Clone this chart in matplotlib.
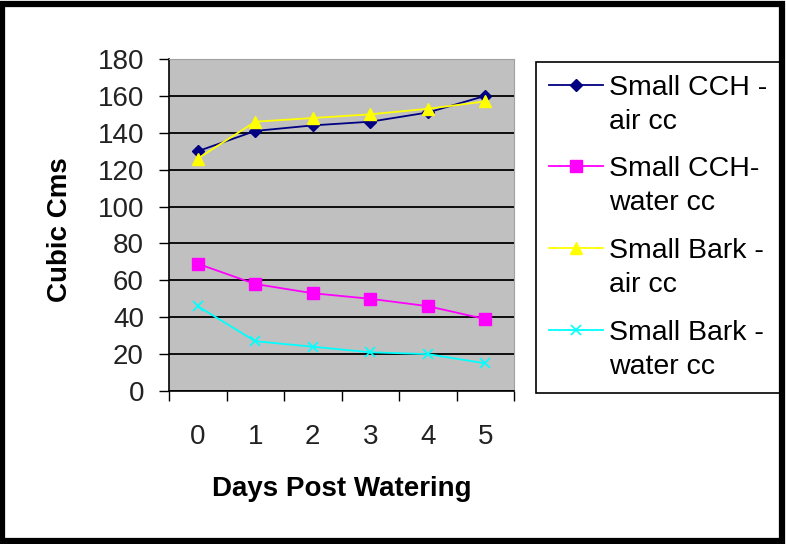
import matplotlib
matplotlib.use("Agg")
import matplotlib.pyplot as plt
from matplotlib.patches import Rectangle

# data
days = [0, 1, 2, 3, 4, 5]
cch_air = [130, 141, 144, 146, 151, 160]
cch_water = [69, 58, 53, 50, 46, 39]
bark_air = [126, 146, 148, 150, 153, 157]
bark_water = [46, 27, 24, 21, 20, 15]
series_labels = ["Small CCH -\nair cc", "Small CCH-\nwater cc",
                 "Small Bark -\nair cc", "Small Bark -\nwater cc"]
y_ticks = list(range(0, 181, 20))

plt.rcParams['font.family'] = ['Liberation Sans', 'DejaVu Sans']

fig = plt.figure(figsize=(7.86, 5.44), dpi=100)
fig.patch.set_facecolor('white')

# thick black frame around the whole picture
fig.patches.append(Rectangle((0.003, 0.005), 0.992, 0.988, transform=fig.transFigure,
                             fill=False, edgecolor='black', linewidth=4.5))

ax = fig.add_axes([169/786, 1 - 391/544, 345/786, 332/544])
ax.set_facecolor('#C0C0C0')

styles = [
    dict(color='#000080', marker='D', markersize=6),
    dict(color='#FF00FF', marker='s', markersize=8),
    dict(color='#FFFF00', marker='^', markersize=9),
    dict(color='#00FFFF', marker='x', markersize=7, markeredgewidth=1.2),
]
for vals, lab, st in zip([cch_air, cch_water, bark_air, bark_water], series_labels, styles):
    ax.plot(days, vals, linewidth=1.3, label=lab, zorder=3, **st)

ax.set_ylim(0, 180)
ax.set_xlim(-0.5, 5.5)
ax.set_yticks(y_ticks)
ax.yaxis.grid(True, color='black', linewidth=1.3)
ax.set_axisbelow(True)

ax.set_xticks(days)
ax.set_xticks([d - 0.5 for d in days] + [5.5], minor=True)
ax.tick_params(axis='x', which='major', length=0, pad=24, labelsize=20, colors='#222222')
ax.tick_params(axis='x', which='minor', length=7, width=1, direction='out')
ax.tick_params(axis='y', which='major', length=7, width=1, direction='out', pad=11,
               labelsize=20, labelcolor='#222222')

for s in ['top', 'right']:
    ax.spines[s].set_color('#A0A0A0')
for s in ['left', 'bottom']:
    ax.spines[s].set_color('black')
    ax.spines[s].set_linewidth(1.2)

ax.set_xlabel("Days Post Watering", fontsize=20, fontweight='bold')
ax.xaxis.set_label_coords(0.5, -0.255)
ax.set_ylabel("Cubic Cms", fontsize=20, fontweight='bold')
ax.yaxis.set_label_coords(-0.278, 0.485)

leg = ax.legend(loc='upper left', bbox_to_anchor=(536/786, 1 - 62/544),
                bbox_transform=fig.transFigure, fontsize=20.5, frameon=True,
                fancybox=False, edgecolor='black', framealpha=1, alignment='left',
                handlelength=1.9, handletextpad=0.22, labelspacing=0.76,
                borderpad=0.45, borderaxespad=0)
leg.get_frame().set_linewidth(1.2)
for t in leg.get_texts():
    t.set_linespacing(1.4)
# keep each legend handle level with the first line of its label
for col in leg._legend_handle_box.get_children():
    for row in col.get_children():
        row.align = 'top'

fig.savefig("out.png", dpi=100)
